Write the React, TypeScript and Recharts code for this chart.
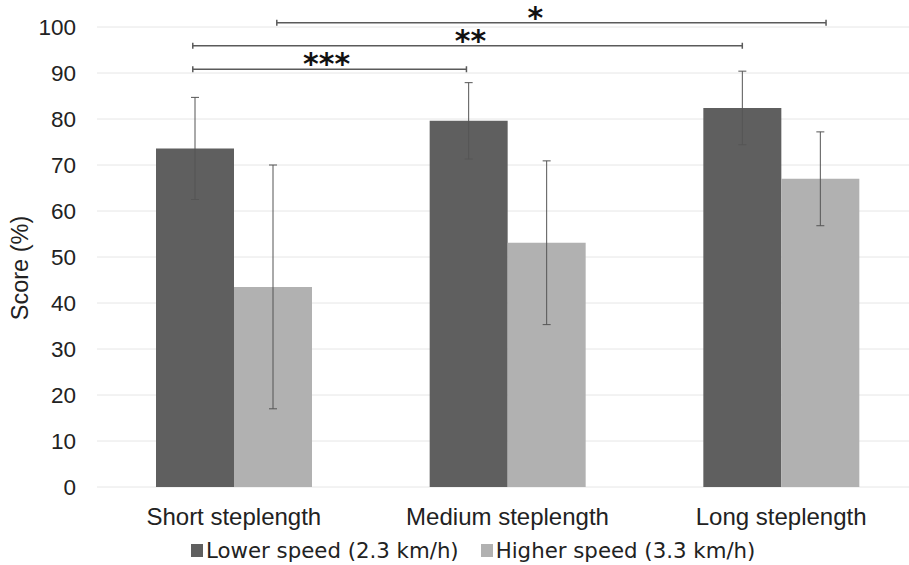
import React from "react";
import {
  BarChart,
  Bar,
  XAxis,
  YAxis,
  CartesianGrid,
  ErrorBar,
  Legend,
  ReferenceLine,
} from "recharts";

const categories = ["Short steplength", "Medium steplength", "Long steplength"];
const lowerSpeed = [73.6, 79.6, 82.4];
const lowerErr = [11.1, 8.3, 8.0];
const higherSpeed = [43.5, 53.1, 67.0];
const higherErr = [26.5, 17.8, 10.2];
const yTicks = [0, 10, 20, 30, 40, 50, 60, 70, 80, 90, 100];

// significance brackets, x positions in category units (0..3)
const bracketStart = [0.35, 0.35, 0.657];
const bracketEnd = [1.35, 2.358, 2.664];
const bracketLevel = [90.8, 95.9, 100.9];
const bracketStars = ["***", "**", "*"];
const bracketStarX = [0.839, 1.365, 1.602];

const seriesNames = ["Lower speed (2.3 km/h)", "Higher speed (3.3 km/h)"];
const DARK = "#5f5f5f";
const LIGHT = "#b1b1b1";
const AXIS_FONT = "'Liberation Sans', Arial, sans-serif";

const data = categories.map((name, i) => ({
  name,
  lower: lowerSpeed[i],
  lowerErr: lowerErr[i],
  higher: higherSpeed[i],
  higherErr: higherErr[i],
}));

const yTickStyle = { fill: "#222", fontSize: 22.5, fontFamily: AXIS_FONT };
const xTickStyle = { fill: "#222", fontSize: 24, fontFamily: AXIS_FONT };

const LegendContent = () => (
  <div
    style={{
      height: 30,
      display: "flex",
      alignItems: "center",
      paddingLeft: 191,
      fontFamily: "'DejaVu Sans', Verdana, sans-serif",
      fontSize: 21.3,
      color: "#222",
      whiteSpace: "nowrap",
    }}
  >
    {seriesNames.map((n, i) => (
      <div key={n} style={{ display: "flex", alignItems: "center", marginRight: 22 }}>
        <span style={{ width: 12, height: 13, background: i === 0 ? DARK : LIGHT, marginRight: 3 }} />
        <span>{n}</span>
      </div>
    ))}
  </div>
);

const YLabel = ({ viewBox }: any) => {
  const cy = viewBox.y + viewBox.height / 2 + 11;
  return (
    <text
      x={20}
      y={cy}
      transform={`rotate(-90, 20, ${cy})`}
      textAnchor="middle"
      dominantBaseline="central"
      style={{ ...yTickStyle, fontSize: 23.5 }}
    >
      Score (%)
    </text>
  );
};

// segment runs between band centres of the two categories; shift ends by fractions of a band
const makeBracket = (i: number) => (p: any) => {
  const si = Math.floor(bracketStart[i]);
  const ei = Math.floor(bracketEnd[i]);
  const bw = (p.x2 - p.x1) / (ei - si);
  const xa = p.x1 + (bracketStart[i] - si - 0.5) * bw;
  const xb = p.x2 + (bracketEnd[i] - ei - 0.5) * bw;
  const xs = p.x1 + (bracketStarX[i] - si - 0.5) * bw;
  const y = p.y1;
  return (
    <g>
      <path
        d={`M${xa},${y}H${xb}M${xa},${y - 3}V${y + 3}M${xb},${y - 3}V${y + 3}`}
        stroke="#5a5a5a"
        strokeWidth={1.5}
        fill="none"
      />
      <text
        x={xs}
        y={y + 5}
        textAnchor="middle"
        fontSize={30}
        fontWeight="bold"
        fontFamily="'DejaVu Sans', sans-serif"
        fill="#111"
      >
        {bracketStars[i]}
      </text>
    </g>
  );
};

export default function App() {
  return (
    <div
      style={{
        position: "absolute",
        left: 0,
        top: 0,
        width: 909,
        height: 565,
        overflow: "hidden",
        background: "#fff",
      }}
    >
      <BarChart
        width={930}
        height={565}
        data={data}
        margin={{ top: 27, right: 12, left: 0, bottom: 0 }}
        barGap={0}
      >
        <CartesianGrid vertical={false} stroke="#e6e6e6" />
        <XAxis
          dataKey="name"
          height={48}
          axisLine={false}
          tickLine={false}
          tickSize={0}
          tickMargin={21}
          tick={xTickStyle}
        />
        <YAxis
          width={97}
          domain={[0, 100]}
          ticks={yTicks}
          axisLine={false}
          tickLine={false}
          tickSize={0}
          tickMargin={21}
          tick={yTickStyle}
          label={<YLabel />}
        />
        <Legend verticalAlign="bottom" height={30} content={<LegendContent />} />
        <Bar dataKey="lower" fill={DARK} barSize={78} isAnimationActive={false}>
          <ErrorBar dataKey="lowerErr" width={4} stroke="#555" strokeWidth={1} />
        </Bar>
        <Bar dataKey="higher" fill={LIGHT} barSize={78} isAnimationActive={false}>
          <ErrorBar dataKey="higherErr" width={4} stroke="#555" strokeWidth={1} />
        </Bar>
        {bracketLevel.map((lv, i) => (
          <ReferenceLine
            key={`b${i}`}
            ifOverflow="visible"
            segment={[
              { x: categories[Math.floor(bracketStart[i])], y: lv },
              { x: categories[Math.floor(bracketEnd[i])], y: lv },
            ]}
            shape={makeBracket(i)}
          />
        ))}
      </BarChart>
    </div>
  );
}
